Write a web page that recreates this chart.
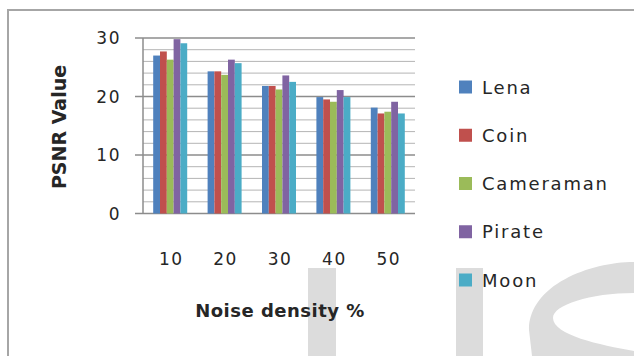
<!DOCTYPE html>
<html>
<head>
<meta charset="utf-8">
<script src="https://cdn.jsdelivr.net/npm/d3@7"></script>
<style>
  body { margin: 0; background: #fff; }
  svg { display: block; font-family: "DejaVu Sans", sans-serif; }
</style>
</head>
<body>
<div id="chart"></div>
<script>
//data
const noiseDensity = ["10", "20", "30", "40", "50"];
const images = ["Lena", "Coin", "Cameraman", "Pirate", "Moon"];
const lena = [27.0, 24.3, 21.8, 19.9, 18.1];
const coin = [27.7, 24.3, 21.8, 19.5, 17.1];
const cameraman = [26.3, 23.7, 21.2, 19.1, 17.4];
const pirate = [29.8, 26.3, 23.6, 21.1, 19.1];
const moon = [29.1, 25.7, 22.5, 19.9, 17.1];
const yTicks = [0, 10, 20, 30];
const colors = ["#4f81bd", "#c0504d", "#9bbb59", "#8064a2", "#4bacc6"];

const seriesValues = [lena, coin, cameraman, pirate, moon];

//svg size
const width = 634;
const height = 356;
const plot = { left: 143, right: 415, top: 38, bottom: 213.5 };

const svg = d3
    .select("#chart")
    .append("svg")
    .attr("width", width)
    .attr("height", height);

//watermark in the background
const gMark = svg.append("g").attr("fill", "#dcdcdc");
gMark.append("rect").attr("x", 308).attr("y", 268).attr("width", 28).attr("height", 88);
gMark.append("rect").attr("x", 456).attr("y", 268).attr("width", 27).attr("height", 88);
gMark
    .append("path")
    .attr("d", "M634,262 C590,262 529,285 529,330 L532,356 L634,356 L634,351 C600,345 553,335 553,318 C553,305 590,293 634,293 Z");

//frame
svg
    .append("path")
    .attr("d", `M8,${height} L8,10 L${width},10`)
    .attr("fill", "none")
    .attr("stroke", "#a6a6a6")
    .attr("stroke-width", 2);

//scales
const x0 = d3
    .scaleBand()
    .domain(noiseDensity)
    .range([plot.left, plot.right])
    .paddingInner(0.375)
    .paddingOuter(0.1875);

const x1 = d3
    .scaleBand()
    .domain(images)
    .range([0, x0.bandwidth()]);

const y = d3
    .scaleLinear()
    .domain([0, 30])
    .range([plot.bottom, plot.top]);

//gridlines, minor every 2
const gGrid = svg.append("g");
gGrid
    .selectAll("line.minor")
    .data(d3.range(2, 30, 2).filter((d) => d % 10 !== 0))
    .join("line")
    .attr("class", "minor")
    .attr("x1", plot.left)
    .attr("x2", plot.right)
    .attr("y1", (d) => y(d))
    .attr("y2", (d) => y(d))
    .attr("stroke", "#b4b4b4")
    .attr("stroke-width", 1);

gGrid
    .selectAll("line.major")
    .data(yTicks)
    .join("line")
    .attr("class", "major")
    .attr("x1", plot.left - 8)
    .attr("x2", plot.right)
    .attr("y1", (d) => y(d))
    .attr("y2", (d) => y(d))
    .attr("stroke", "#8c8c8c")
    .attr("stroke-width", 1.5);

//bars
const gBars = svg.append("g");
gBars
    .selectAll("g")
    .data(noiseDensity)
    .join("g")
    .attr("transform", (d) => `translate(${x0(d)},0)`)
    .selectAll("rect")
    .data((d, i) => images.map((name, k) => ({ name, k, value: seriesValues[k][i] })))
    .join("rect")
    .attr("x", (d) => x1(d.name))
    .attr("width", x1.bandwidth())
    .attr("y", (d) => y(d.value))
    .attr("height", (d) => y(0) - y(d.value))
    .attr("fill", (d) => colors[d.k]);

//y axis line
svg
    .append("line")
    .attr("x1", plot.left)
    .attr("x2", plot.left)
    .attr("y1", plot.top)
    .attr("y2", plot.bottom)
    .attr("stroke", "#8c8c8c")
    .attr("stroke-width", 1.5);

//axis labels
svg
    .append("g")
    .selectAll("text")
    .data(yTicks)
    .join("text")
    .attr("x", 121)
    .attr("y", (d) => y(d) + 6)
    .attr("text-anchor", "end")
    .attr("font-size", 17)
    .attr("letter-spacing", 1.5)
    .attr("fill", "#262626")
    .text((d) => d);

svg
    .append("g")
    .selectAll("text")
    .data(noiseDensity)
    .join("text")
    .attr("x", (d) => x0(d) + x0.bandwidth() / 2 + 1)
    .attr("y", 265)
    .attr("text-anchor", "middle")
    .attr("font-size", 17)
    .attr("letter-spacing", 1.5)
    .attr("fill", "#262626")
    .text((d) => d);

svg
    .append("text")
    .attr("x", 280)
    .attr("y", 317)
    .attr("text-anchor", "middle")
    .attr("font-size", 18)
    .attr("font-weight", "bold")
    .attr("letter-spacing", 0.5)
    .attr("fill", "#262626")
    .text("Noise density %");

svg
    .append("text")
    .attr("transform", "translate(66,127) rotate(-90)")
    .attr("text-anchor", "middle")
    .attr("font-size", 19)
    .attr("font-weight", "bold")
    .attr("fill", "#262626")
    .text("PSNR Value");

//legend
const gLegend = svg
    .append("g")
    .selectAll("g")
    .data(images)
    .join("g")
    .attr("transform", (d, i) => `translate(459,${87 + i * 48.25})`);

gLegend
    .append("rect")
    .attr("x", 0)
    .attr("y", -6.5)
    .attr("width", 13)
    .attr("height", 13)
    .attr("fill", (d, i) => colors[i]);

gLegend
    .append("text")
    .attr("x", 23)
    .attr("y", 6.5)
    .attr("font-size", 18)
    .attr("letter-spacing", 1.8)
    .attr("fill", "#262626")
    .text((d) => d);
</script>
</body>
</html>
